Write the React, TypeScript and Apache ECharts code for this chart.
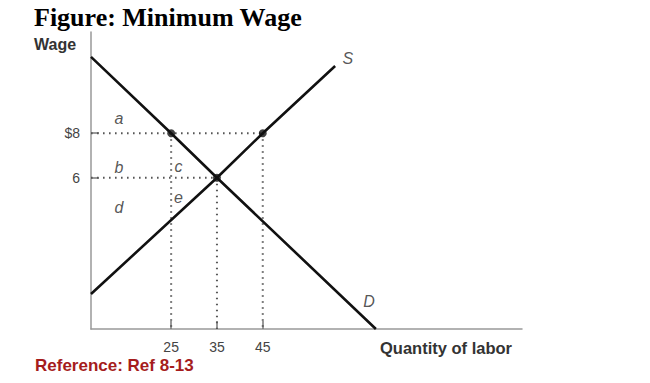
import React, { useEffect, useRef } from "react";
import * as echarts from "echarts";

// Axis ranges (schematic axes)
const xRange = [7.5, 101.6];
const yRange = [-0.8, 12.55];

// Tick values
const xTicks = [25, 35, 45];
const yTicks = [6, 8];

// Supply and demand curves (quantity, wage)
const supplyQ = [7.5, 35, 45, 60.8];
const supplyW = [0.77, 6, 8, 11.02];
const demandQ = [7.5, 25, 35, 69.7];
const demandW = [11.43, 8, 6, -0.8];

// Key points
const minWage = 8;
const eqWage = 6;
const qDemanded = 25;
const qEquilibrium = 35;
const qSupplied = 45;

// Area / curve labels
const labelText = ["a", "b", "d", "c", "e", "S", "D"];
const labelQ = [13.6, 13.6, 13.6, 26.6, 26.6, 63.6, 68.2];
const labelW = [8.64, 6.48, 4.64, 6.5, 5.1, 11.38, 0.42];

export default function App() {
  const ref = useRef<HTMLDivElement>(null);
  useEffect(() => {
    if (!ref.current) return;
    const chart = echarts.init(ref.current, null, { renderer: "svg" });
    const guide = (pts: number[][]) => ({
      type: "line",
      data: pts,
      symbol: "none",
      silent: true,
      z: 1,
      lineStyle: { color: "#555", width: 2, type: [1.6, 4.4] },
    });
    const x0 = xRange[0];
    const y0 = yRange[0];
    chart.setOption({
      animation: false,
      title: {
        text: "Figure: Minimum Wage",
        left: 34,
        top: 4,
        padding: 0,
        textStyle: {
          fontFamily: "Liberation Serif",
          fontWeight: "bold",
          fontSize: 26,
          color: "#000",
        },
      },
      grid: { left: 91, right: 128, top: 32, bottom: 54 },
      xAxis: {
        type: "value",
        min: xRange[0],
        max: xRange[1],
        splitLine: { show: false },
        axisLine: { onZero: false, lineStyle: { color: "#999", width: 1.5 } },
        axisTick: {
          customValues: xTicks,
          inside: true,
          length: 8,
          lineStyle: { color: "#777", width: 1.5 },
        },
        axisLabel: {
          customValues: xTicks,
          color: "#444",
          fontSize: 14,
          fontFamily: "Liberation Sans",
          margin: 11,
        },
      },
      yAxis: {
        type: "value",
        min: yRange[0],
        max: yRange[1],
        splitLine: { show: false },
        axisLine: { onZero: false, lineStyle: { color: "#999", width: 1.5 } },
        axisTick: {
          customValues: yTicks,
          inside: true,
          length: 8,
          lineStyle: { color: "#777", width: 1.5 },
        },
        axisLabel: {
          customValues: yTicks,
          color: "#444",
          fontSize: 14,
          fontFamily: "Liberation Sans",
          margin: 11,
          formatter: (v: number) => (v === minWage ? "$" + v : String(v)),
        },
      },
      graphic: [
        {
          type: "text",
          left: 34,
          top: 36,
          style: {
            text: "Wage",
            font: 'bold 16px "Liberation Sans"',
            fill: "#333",
          },
        },
        {
          type: "text",
          left: 380,
          top: 339,
          style: {
            text: "Quantity of labor",
            font: 'bold 16.5px "Liberation Sans"',
            fill: "#333",
          },
        },
        {
          type: "text",
          left: 35,
          top: 357,
          style: {
            text: "Reference: Ref 8-13",
            font: 'bold 17px "Liberation Sans"',
            fill: "#a51c1c",
          },
        },
      ],
      series: [
        guide([[x0, minWage], [qSupplied, minWage]]),
        guide([[x0, eqWage], [qEquilibrium, eqWage]]),
        guide([[qDemanded, minWage], [qDemanded, y0]]),
        guide([[qEquilibrium, eqWage], [qEquilibrium, y0]]),
        guide([[qSupplied, minWage], [qSupplied, y0]]),
        {
          type: "line",
          data: supplyQ.map((q, i) => [q, supplyW[i]]),
          symbol: "none",
          z: 3,
          lineStyle: { color: "#111", width: 2.6 },
        },
        {
          type: "line",
          data: demandQ.map((q, i) => [q, demandW[i]]),
          symbol: "none",
          z: 3,
          lineStyle: { color: "#111", width: 2.6 },
        },
        {
          type: "scatter",
          data: [
            [qDemanded, minWage],
            [qSupplied, minWage],
            [qEquilibrium, eqWage],
          ],
          symbolSize: 8,
          z: 4,
          itemStyle: { color: "#111" },
        },
        {
          type: "scatter",
          data: labelText.map((t, i) => ({ value: [labelQ[i], labelW[i]], name: t })),
          symbolSize: 2,
          silent: true,
          z: 5,
          itemStyle: { color: "rgba(255,255,255,0)" },
          label: {
            show: true,
            position: "inside",
            formatter: (p: any) => p.name,
            fontStyle: "italic",
            fontFamily: "Liberation Sans",
            fontSize: 16,
            color: "#2a2a2a",
          },
        },
      ],
    });
    return () => chart.dispose();
  }, []);
  return (
    <div
      ref={ref}
      style={{ position: "fixed", left: 0, top: 0, width: 650, height: 383, background: "#fff" }}
    />
  );
}
